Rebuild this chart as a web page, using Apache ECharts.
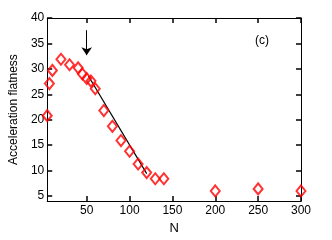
<!DOCTYPE html>
<html><head><meta charset="utf-8">
<script src="https://cdn.jsdelivr.net/npm/echarts@6/dist/echarts.min.js"></script>
<style>html,body{margin:0;padding:0;background:#fff}#c{width:332px;height:240px}</style>
</head><body><div id="c"></div>
<script>
const nValues = [4, 6.5, 10, 20, 30, 40, 45, 50, 55, 60, 70, 80, 90, 100, 110, 120, 130, 140, 200, 250, 300];
const flatness = [20.8, 27.1, 29.7, 31.9, 30.8, 30.2, 29.0, 28.1, 27.6, 26.1, 21.8, 18.7, 15.9, 13.8, 11.3, 9.6, 8.4, 8.4, 6.0, 6.4, 6.0];
const fitN = [52, 120];
const fitY = [28.6, 9.4];
const arrowN = [50, 50];
const arrowY = [37.6, 32.7];
const xTicks = [50, 100, 150, 200, 250, 300];
const yTicks = [5, 10, 15, 20, 25, 30, 35, 40];
const FONT = 'Liberation Sans';

const chart = echarts.init(document.getElementById('c'));
function mkTick(vals) {
  return {show: true, inside: true, length: 5, lineStyle: {color: 'black', width: 1.5}, customValues: vals};
}
function mkLine() {
  return {show: true, lineStyle: {color: 'black', width: 1}};
}
chart.setOption({
  animation: false,
  grid: {left: 43, top: 18, width: 258, height: 192},
  xAxis: [{
    type: 'value', min: 4, max: 300, position: 'bottom',
    axisLine: mkLine(),
    axisTick: mkTick(xTicks),
    axisLabel: {customValues: xTicks, color: '#000', fontFamily: FONT, fontSize: 12, margin: 4},
    splitLine: {show: false},
    name: 'N', nameLocation: 'middle', nameGap: 17,
    nameTextStyle: {color: '#000', fontFamily: FONT, fontSize: 13}
  }, {
    type: 'value', min: 4, max: 300, position: 'top',
    axisLine: mkLine(),
    axisTick: mkTick(xTicks),
    axisLabel: {show: false}, splitLine: {show: false}
  }],
  yAxis: [{
    type: 'value', min: 4, max: 40, position: 'left',
    axisLine: mkLine(),
    axisTick: mkTick(yTicks),
    axisLabel: {customValues: yTicks, color: '#000', fontFamily: FONT, fontSize: 12, margin: 3},
    splitLine: {show: false},
    name: 'Acceleration flatness', nameLocation: 'middle', nameGap: 22, nameRotate: 90,
    nameTextStyle: {color: '#000', fontFamily: FONT, fontSize: 12}
  }, {
    type: 'value', min: 4, max: 40, position: 'right',
    axisLine: mkLine(),
    axisTick: mkTick(yTicks),
    axisLabel: {show: false}, splitLine: {show: false}
  }],
  series: [{
    type: 'line',
    data: fitN.map((n, i) => [n, fitY[i]]),
    showSymbol: false, symbol: 'none',
    lineStyle: {color: '#000', width: 1.2},
    z: 2,
    markLine: {
      silent: true, symbol: ['none', 'arrow'], symbolSize: 8,
      lineStyle: {color: '#000', width: 1, type: 'solid'},
      itemStyle: {color: '#000'},
      label: {show: false},
      data: [[{coord: [arrowN[0], arrowY[0]]}, {coord: [arrowN[1], arrowY[1]]}]]
    }
  }, {
    type: 'scatter',
    data: nValues.map((n, i) => [n, flatness[i]]),
    symbol: 'diamond', symbolSize: [9, 11],
    itemStyle: {color: 'rgba(0,0,0,0)', borderColor: '#ff0000', borderWidth: 2},
    z: 3
  }],
  graphic: [{
    type: 'text', left: 255, top: 35,
    style: {text: '(c)', fill: '#000', font: '12px "Liberation Sans"'}
  }]
});
</script></body></html>
